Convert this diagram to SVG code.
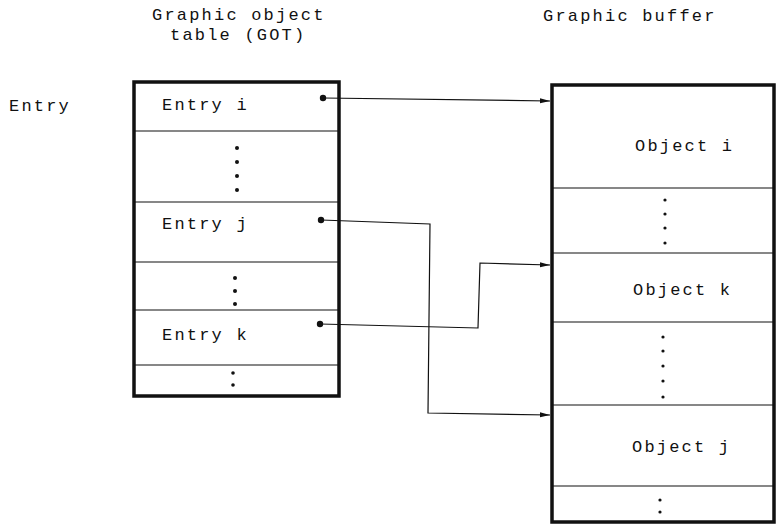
<svg xmlns="http://www.w3.org/2000/svg" width="777" height="526" viewBox="0 0 777 526">
<style>
text{font-family:"Liberation Mono","Courier New",monospace;font-size:17px;letter-spacing:2.2px;fill:#111}
.frame{fill:#fff;stroke:#111;stroke-width:3.5}
.row{stroke:#111;stroke-width:1.1;fill:none}
.conn{stroke:#111;stroke-width:1.2;fill:none}
.dot{fill:#111}
</style>
<defs>
<marker id="ah" markerWidth="10" markerHeight="6" refX="10" refY="3" orient="auto" markerUnits="userSpaceOnUse">
<path d="M0,0.5 L10,3 L0,5.5 Z" fill="#111"/>
</marker>
</defs>
<rect width="777" height="526" fill="#fff"/>
<g id="titles">
<text x="152" y="20">Graphic object</text>
<text x="170" y="40">table (GOT)</text>
<text x="543" y="21">Graphic buffer</text>
<text x="9" y="111">Entry</text>
</g>
<g id="got">
<rect class="frame" x="134" y="82" width="205" height="314"/>
<line class="row" x1="134" y1="131" x2="339" y2="131"/>
<line class="row" x1="134" y1="202" x2="339" y2="202"/>
<line class="row" x1="134" y1="262" x2="339" y2="262"/>
<line class="row" x1="134" y1="310" x2="339" y2="310"/>
<line class="row" x1="134" y1="365" x2="339" y2="365"/>
</g>
<g id="entry-i"><text x="162" y="110">Entry i</text></g>
<g id="got-dots1"><circle class="dot" cx="237" cy="148" r="2"/><circle class="dot" cx="237" cy="162" r="2"/><circle class="dot" cx="237" cy="176" r="2"/><circle class="dot" cx="237" cy="190" r="2"/></g>
<g id="entry-j"><text x="162" y="229">Entry j</text></g>
<g id="got-dots2"><circle class="dot" cx="235" cy="278" r="2"/><circle class="dot" cx="235" cy="291" r="2"/><circle class="dot" cx="235" cy="304" r="2"/></g>
<g id="entry-k"><text x="162" y="340">Entry k</text></g>
<g id="got-dots3"><circle class="dot" cx="233" cy="373" r="1.8"/><circle class="dot" cx="233" cy="385" r="1.8"/></g>
<g id="buffer">
<rect class="frame" x="552" y="85" width="222" height="437"/>
<line class="row" x1="552" y1="188" x2="774" y2="188"/>
<line class="row" x1="552" y1="253" x2="774" y2="253"/>
<line class="row" x1="552" y1="322" x2="774" y2="322"/>
<line class="row" x1="552" y1="405" x2="774" y2="405"/>
<line class="row" x1="552" y1="486" x2="774" y2="486"/>
</g>
<g id="object-i"><text x="635" y="151">Object i</text></g>
<g id="buf-dots1"><circle class="dot" cx="665" cy="200" r="1.6"/><circle class="dot" cx="665" cy="214" r="1.6"/><circle class="dot" cx="665" cy="228" r="1.6"/><circle class="dot" cx="665" cy="243" r="1.6"/></g>
<g id="object-k"><text x="633" y="295">Object k</text></g>
<g id="buf-dots2"><circle class="dot" cx="663" cy="337" r="1.6"/><circle class="dot" cx="663" cy="351" r="1.6"/><circle class="dot" cx="663" cy="366" r="1.6"/><circle class="dot" cx="663" cy="381" r="1.6"/><circle class="dot" cx="663" cy="397" r="1.6"/></g>
<g id="object-j"><text x="632" y="452">Object j</text></g>
<g id="buf-dots3"><circle class="dot" cx="660" cy="500" r="1.6"/><circle class="dot" cx="660" cy="512" r="1.6"/></g>
<g id="connectors">
<circle class="dot" cx="323" cy="98" r="3.2"/>
<circle class="dot" cx="321" cy="220" r="3.2"/>
<circle class="dot" cx="320" cy="324" r="3.2"/>
<path class="conn" d="M323,98 L550,101" marker-end="url(#ah)"/>
<path class="conn" d="M321,220 L430,224 L428,413 L550,415" marker-end="url(#ah)"/>
<path class="conn" d="M320,324 L478,328 L480,263 L550,265" marker-end="url(#ah)"/>
</g>
</svg>
